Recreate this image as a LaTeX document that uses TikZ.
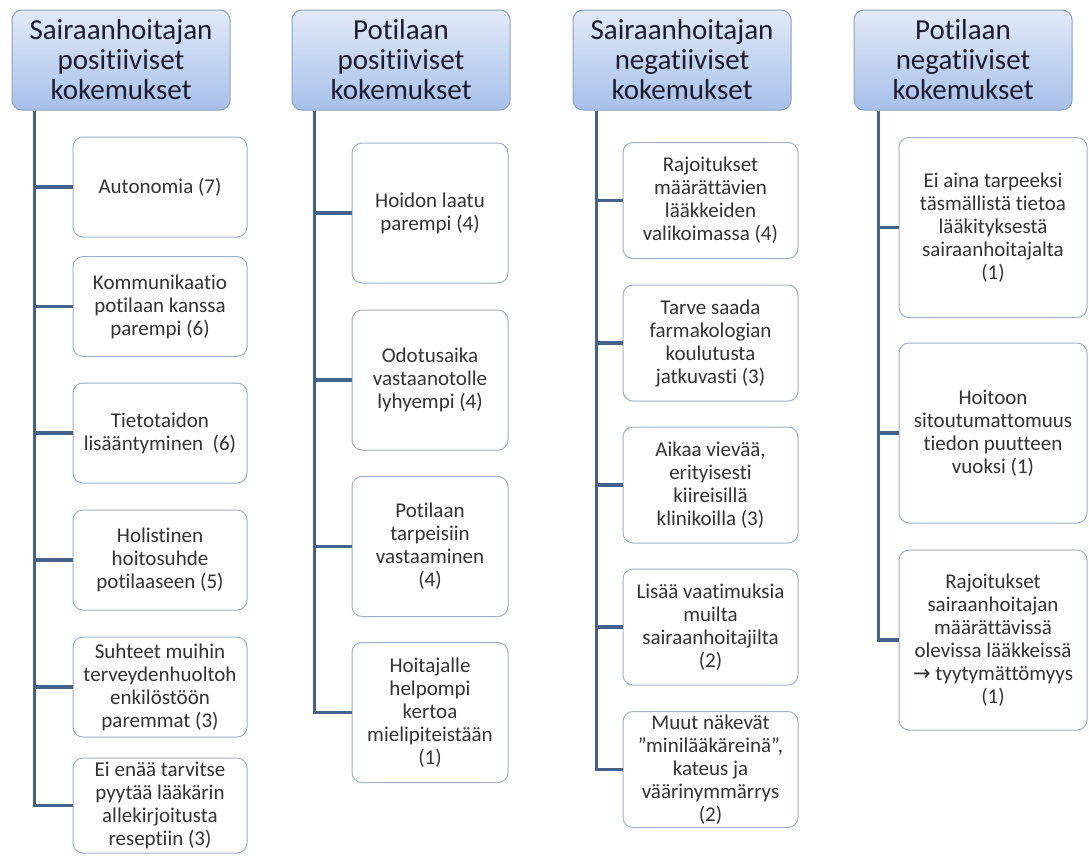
\documentclass[tikz,border=0pt]{standalone}
\usepackage{fontspec}
\setmainfont{Carlito}[Ligatures=NoCommon]
\newfontfamily\arrowfont{DejaVu Sans}

\definecolor{linecol}{HTML}{44628C}
\definecolor{headtop}{HTML}{E2EAF8}
\definecolor{headbot}{HTML}{A7C0EA}
\definecolor{headborder}{HTML}{8CA0C2}
\definecolor{headtext}{HTML}{1C1C30}
\definecolor{itemborder}{HTML}{A2AFC4}
\definecolor{itemtext}{HTML}{333333}

\tikzset{
  head/.style={draw=headborder,line width=1pt,rounded corners=10pt,top color=headtop,bottom color=headbot,
    minimum width=218pt,minimum height=100pt,inner sep=0pt,align=center,text=headtext,
    font=\fontsize{29}{30}\selectfont},
  item/.style={draw=itemborder,line width=1pt,rounded corners=10pt,fill=white,inner sep=0pt,
    align=center,text=itemtext,font=\fontsize{21}{23}\selectfont},
  colA/.style={item,minimum width=174pt,minimum height=100pt},
  colB/.style={item,minimum width=156pt,minimum height=140pt},
  colC/.style={item,minimum width=175pt,minimum height=116pt},
  colD/.style={item,minimum width=188pt,minimum height=180pt},
  conn/.style={linecol,line width=3.8pt}
}

\begin{document}
\begin{tikzpicture}[x=1pt,y=-1pt]

\fill[white] (0,0) rectangle (1089,855);
\useasboundingbox (0,0) rectangle (1089,855);

% otsikot
\node[head] (sp) at (121,60) {Sairaanhoitajan\\positiiviset\\kokemukset};
\node[head] (pp) at (401,60) {Potilaan\\positiiviset\\kokemukset};
\node[head] (sn) at (682,60) {Sairaanhoitajan\\negatiiviset\\kokemukset};
\node[head] (pn) at (963,60) {Potilaan\\negatiiviset\\kokemukset};

% sairaanhoitajan positiiviset
\node[colA] (sp1) at (160,187) {Autonomia (7)};
\node[colA] (sp2) at (160,306.5) {Kommunikaatio\\potilaan kanssa\\parempi (6)};
\node[colA] (sp3) at (160,433) {Tietotaidon\\lisääntyminen~~(6)};
\node[colA] (sp4) at (160,560) {Holistinen\\hoitosuhde\\potilaaseen (5)};
\node[colA] (sp5) at (160,687) {Suhteet muihin\\terveydenhuoltoh\\enkilöstöön\\paremmat (3)};
\node[colA,minimum height=95pt] (sp6) at (160,805.5) {Ei enää tarvitse\\pyytää lääkärin\\allekirjoitusta\\reseptiin (3)};

% potilaan positiiviset
\node[colB] (pp1) at (430,213) {Hoidon laatu\\parempi (4)};
\node[colB] (pp2) at (430,380) {Odotusaika\\vastaanotolle\\lyhyempi (4)};
\node[colB] (pp3) at (430,546.5) {Potilaan\\tarpeisiin\\vastaaminen\\(4)};
\node[colB] (pp4) at (430,712.5) {Hoitajalle\\helpompi\\kertoa\\mielipiteistään\\(1)};

% sairaanhoitajan negatiiviset
\node[colC] (sn1) at (710.5,200.5) {Rajoitukset\\määrättävien\\lääkkeiden\\valikoimassa (4)};
\node[colC] (sn2) at (710.5,343) {Tarve saada\\farmakologian\\koulutusta\\jatkuvasti (3)};
\node[colC] (sn3) at (710.5,485) {Aikaa vievää,\\erityisesti\\kiireisillä\\klinikoilla (3)};
\node[colC] (sn4) at (710.5,627) {Lisää vaatimuksia\\muilta\\sairaanhoitajilta\\(2)};
\node[colC] (sn5) at (710.5,769.5) {Muut näkevät\\”minilääkäreinä”,\\kateus ja\\väärinymmärrys\\(2)};

% potilaan negatiiviset
\node[colD] (pn1) at (993,227.5) {Ei aina tarpeeksi\\täsmällistä tietoa\\lääkityksestä\\sairaanhoitajalta\\(1)};
\node[colD] (pn2) at (993,433) {Hoitoon\\sitoutumattomuus\\tiedon puutteen\\vuoksi (1)};
\node[colD] (pn3) at (993,640) {Rajoitukset\\sairaanhoitajan\\määrättävissä\\olevissa lääkkeissä\\{\arrowfont →} tyytymättömyys\\(1)};

% yhdysviivat
\foreach \i in {1,...,6}
  \draw[conn] ([xshift=23pt]sp.south west) |- (sp\i.west);
\foreach \i in {1,...,4}
  \draw[conn] ([xshift=23pt]pp.south west) |- (pp\i.west);
\foreach \i in {1,...,5}
  \draw[conn] ([xshift=24pt]sn.south west) |- (sn\i.west);
\foreach \i in {1,...,3}
  \draw[conn] ([xshift=25pt]pn.south west) |- (pn\i.west);

\end{tikzpicture}
\end{document}
